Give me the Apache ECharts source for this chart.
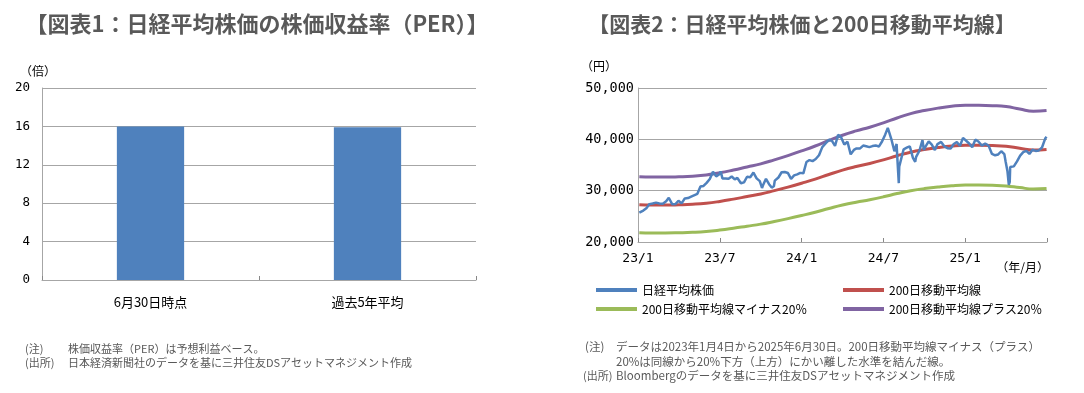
<!DOCTYPE html>
<html>
<head>
<meta charset="utf-8">
<script src="https://cdn.jsdelivr.net/npm/echarts@6/dist/echarts.min.js"></script>
<style>
html,body{margin:0;padding:0;background:#fff;}
#c{width:1084px;height:393px;}
</style>
</head>
<body>
<div id="c"></div>
<script>
// ---------- Chart 1 data ----------
var perCategories = ['6月30日時点', '過去5年平均'];
var perValues = [16.0, 15.9];
var perTicks = [0, 4, 8, 12, 16, 20];

// ---------- Chart 2 data ----------
var xTickLabels = ['23/1', '23/7', '24/1', '24/7', '25/1'];
var yTickValues = [20000, 30000, 40000, 50000];

var nikkeiDates = [
 '2023-01-04','2023-01-06','2023-01-13','2023-01-20','2023-01-27','2023-02-03','2023-02-10','2023-02-17','2023-02-24',
 '2023-03-03','2023-03-09','2023-03-17','2023-03-20','2023-03-24','2023-03-31','2023-04-07','2023-04-14','2023-04-21','2023-04-28',
 '2023-05-02','2023-05-12','2023-05-19','2023-05-26','2023-06-02','2023-06-09','2023-06-16','2023-06-23','2023-06-30',
 '2023-07-03','2023-07-07','2023-07-14','2023-07-21','2023-07-28','2023-08-04','2023-08-10','2023-08-18','2023-08-25',
 '2023-09-01','2023-09-08','2023-09-15','2023-09-22','2023-09-29','2023-10-04','2023-10-06','2023-10-13','2023-10-20','2023-10-26','2023-10-31',
 '2023-11-02','2023-11-10','2023-11-17','2023-11-24','2023-12-01','2023-12-08','2023-12-15','2023-12-22','2023-12-29',
 '2024-01-05','2024-01-12','2024-01-19','2024-01-26','2024-02-02','2024-02-09','2024-02-16','2024-02-22',
 '2024-03-01','2024-03-04','2024-03-08','2024-03-15','2024-03-22','2024-03-29','2024-04-05','2024-04-12','2024-04-19','2024-04-26',
 '2024-05-02','2024-05-10','2024-05-17','2024-05-24','2024-05-31','2024-06-07','2024-06-14','2024-06-21','2024-06-28',
 '2024-07-05','2024-07-11','2024-07-19','2024-07-26','2024-07-31','2024-08-02','2024-08-05','2024-08-06','2024-08-09','2024-08-16','2024-08-23','2024-08-30',
 '2024-09-06','2024-09-11','2024-09-13','2024-09-20','2024-09-27','2024-09-30','2024-10-04','2024-10-11','2024-10-18','2024-10-25','2024-10-31',
 '2024-11-08','2024-11-15','2024-11-22','2024-11-29','2024-12-06','2024-12-13','2024-12-20','2024-12-27','2024-12-30',
 '2025-01-10','2025-01-17','2025-01-24','2025-01-31','2025-02-07','2025-02-14','2025-02-21','2025-02-28',
 '2025-03-07','2025-03-14','2025-03-21','2025-03-28','2025-03-31','2025-04-04','2025-04-07','2025-04-09','2025-04-10','2025-04-18','2025-04-25',
 '2025-05-02','2025-05-09','2025-05-16','2025-05-23','2025-05-30','2025-06-06','2025-06-13','2025-06-20','2025-06-27','2025-06-30'
];
var nikkeiValues = [
 25717,25973,26120,26553,27383,27509,27671,27513,27453,
 27927,28623,27334,26946,27385,28041,27518,28493,28564,28856,
 29158,29388,30808,30916,31524,32265,33706,32782,33189,
 33753,32388,32391,32304,32759,32192,32474,31450,31624,
 32710,32606,33533,32402,31857,30526,30994,32315,31259,30601,30859,
 31950,32568,33585,33625,33431,32307,32970,33169,33464,
 33377,35577,35963,35751,36158,36897,38487,39098,
 39910,40109,39688,38707,40888,40369,38992,39523,37068,37934,
 38236,38229,38787,38646,38487,38683,38814,38596,39583,
 40912,42224,40063,37667,39101,35909,31458,34675,35025,38062,38364,38647,
 36391,35619,36581,37723,39829,37919,38635,39605,38981,37913,39081,
 39500,38642,38283,38208,39091,39470,38701,40281,39894,
 39190,38451,39931,39572,38787,39149,38776,37155,
 36887,37053,37677,37120,35617,33780,31136,31714,34609,34730,35705,
 36831,37503,37753,37160,37965,37742,37834,38403,40150,40487
];

var maDates = [
 '2023-01-04','2023-02-01','2023-03-01','2023-04-01','2023-05-01','2023-06-01','2023-07-01','2023-08-01','2023-09-01','2023-10-01','2023-11-01','2023-12-01',
 '2024-01-01','2024-02-01','2024-03-01','2024-04-01','2024-05-01','2024-06-01','2024-07-01','2024-08-01','2024-09-01','2024-10-01','2024-11-01','2024-12-01',
 '2025-01-01','2025-02-01','2025-03-01','2025-04-01','2025-05-01','2025-06-01','2025-06-30'
];
var ma200 = [
 27250,27200,27200,27250,27350,27550,27900,28350,28850,29350,30000,30700,
 31450,32250,33150,34000,34700,35300,36000,36800,37500,38000,38400,38700,
 38850,38850,38800,38650,38250,37900,38000
];
var maMinus20 = [
 21800,21760,21760,21800,21880,22040,22320,22680,23080,23480,24000,24560,
 25160,25800,26520,27200,27760,28240,28800,29440,30000,30400,30720,30960,
 31080,31080,31040,30920,30600,30320,30400
];
var maPlus20 = [
 32700,32640,32640,32700,32820,33060,33480,34020,34620,35220,36000,36840,
 37740,38700,39780,40800,41640,42360,43200,44160,45000,45600,46080,46440,
 46620,46620,46560,46380,45900,45480,45600
];

// ---------- helpers ----------
function monthPos(s) {
  var p = s.split('-').map(Number);
  var dim = new Date(p[0], p[1], 0).getDate();
  return (p[0] - 2023) * 12 + (p[1] - 1) + (p[2] - 1) / dim;
}
function pairs(dates, vals) {
  return dates.map(function (d, i) { return [monthPos(d), vals[i]]; });
}

var JP = "'Noto Sans CJK JP', 'Noto Sans', sans-serif";
var MONO = "'DejaVu Sans Mono', monospace";
var GRID_C = '#a6a6a6';
var NOTE_F = '11px ' + JP;
var NOTE_R = '11.5px ' + JP;

var chart = echarts.init(document.getElementById('c'), null, {renderer: 'canvas'});

var option = {
  animation: false,
  backgroundColor: '#ffffff',
  grid: [
    {left: 42, top: 88, width: 434, height: 192},
    {left: 638, top: 88, width: 409, height: 154}
  ],
  xAxis: [
    {
      type: 'category', gridIndex: 0, data: perCategories,
      axisLine: {lineStyle: {color: GRID_C}},
      axisTick: {show: true, inside: true, length: 4, lineStyle: {color: '#888'}},
      axisLabel: {color: '#000', fontFamily: JP, fontSize: 13, margin: 16}
    },
    {
      type: 'value', gridIndex: 1, min: 0, max: 30, interval: 6,
      axisLine: {onZero: false, lineStyle: {color: GRID_C}},
      axisTick: {show: true, inside: true, length: 4, lineStyle: {color: '#888'}},
      splitLine: {show: false},
      axisLabel: {
        color: '#000', fontFamily: MONO, fontSize: 13, margin: 10,
        formatter: function (v) { var i = Math.round(v / 6); return xTickLabels[i] || ''; }
      }
    }
  ],
  yAxis: [
    {
      type: 'value', gridIndex: 0, min: perTicks[0], max: perTicks[perTicks.length - 1], interval: 4,
      axisLine: {show: true, lineStyle: {color: GRID_C}},
      axisTick: {show: false},
      splitLine: {lineStyle: {color: GRID_C}},
      axisLabel: {color: '#000', fontFamily: MONO, fontSize: 12.5, margin: 12}
    },
    {
      type: 'value', gridIndex: 1, min: yTickValues[0], max: yTickValues[yTickValues.length - 1], interval: 10000,
      axisLine: {show: true, lineStyle: {color: GRID_C}},
      axisTick: {show: false},
      splitLine: {lineStyle: {color: GRID_C}},
      axisLabel: {
        color: '#000', fontFamily: MONO, fontSize: 13.5, margin: 4,
        formatter: function (v) { return v.toLocaleString('en-US'); }
      }
    }
  ],
  legend: [
    {
      orient: 'vertical', left: 596, top: 284, padding: 0, itemWidth: 41, itemHeight: 4, itemGap: 7,
      icon: 'rect', textStyle: {fontFamily: JP, fontSize: 12, color: '#000'},
      data: ['日経平均株価', '200日移動平均線マイナス20％']
    },
    {
      orient: 'vertical', left: 843, top: 284, padding: 0, itemWidth: 41, itemHeight: 4, itemGap: 7,
      icon: 'rect', textStyle: {fontFamily: JP, fontSize: 12, color: '#000'},
      data: ['200日移動平均線', '200日移動平均線プラス20％']
    }
  ],
  series: [
    {
      type: 'bar', xAxisIndex: 0, yAxisIndex: 0, data: perValues, barWidth: '31%',
      itemStyle: {color: '#4f81bd'}
    },
    {
      name: '200日移動平均線マイナス20％', type: 'line', xAxisIndex: 1, yAxisIndex: 1,
      data: pairs(maDates, maMinus20), smooth: true, showSymbol: false,
      lineStyle: {color: '#9bbb59', width: 3}, itemStyle: {color: '#9bbb59'}
    },
    {
      name: '200日移動平均線プラス20％', type: 'line', xAxisIndex: 1, yAxisIndex: 1,
      data: pairs(maDates, maPlus20), smooth: true, showSymbol: false,
      lineStyle: {color: '#8064a2', width: 3}, itemStyle: {color: '#8064a2'}
    },
    {
      name: '200日移動平均線', type: 'line', xAxisIndex: 1, yAxisIndex: 1,
      data: pairs(maDates, ma200), smooth: true, showSymbol: false,
      lineStyle: {color: '#c0504d', width: 3}, itemStyle: {color: '#c0504d'}
    },
    {
      name: '日経平均株価', type: 'line', xAxisIndex: 1, yAxisIndex: 1,
      data: pairs(nikkeiDates, nikkeiValues), showSymbol: false,
      lineStyle: {color: '#4f81bd', width: 2.5}, itemStyle: {color: '#4f81bd'}
    }
  ],
  graphic: [
    {type: 'text', style: {text: '【図表1：日経平均株価の株価収益率（PER）】', x: 257, y: 24, textAlign: 'center', textVerticalAlign: 'middle', font: 'bold 22px ' + JP, fill: '#595959'}},
    {type: 'text', style: {text: '【図表2：日経平均株価と200日移動平均線】', x: 802, y: 24, textAlign: 'center', textVerticalAlign: 'middle', font: 'bold 21px ' + JP, fill: '#595959'}},
    {type: 'text', style: {text: '（倍）', x: 20, y: 71, textVerticalAlign: 'middle', font: '12px ' + JP, fill: '#000'}},
    {type: 'text', style: {text: '（円）', x: 581, y: 66, textVerticalAlign: 'middle', font: '12px ' + JP, fill: '#000'}},
    {type: 'text', style: {text: '（年/月）', x: 1049, y: 267, textAlign: 'right', textVerticalAlign: 'middle', font: '12px ' + JP, fill: '#000'}},
    // notes left
    {type: 'text', style: {text: '(注)', x: 25, y: 349, textVerticalAlign: 'middle', font: NOTE_F, fill: '#595959'}},
    {type: 'text', style: {text: '株価収益率（PER）は予想利益ベース。', x: 68, y: 349, textVerticalAlign: 'middle', font: NOTE_F, fill: '#595959'}},
    {type: 'text', style: {text: '(出所)', x: 25, y: 363, textVerticalAlign: 'middle', font: NOTE_F, fill: '#595959'}},
    {type: 'text', style: {text: '日本経済新聞社のデータを基に三井住友DSアセットマネジメント作成', x: 68, y: 363, textVerticalAlign: 'middle', font: NOTE_F, fill: '#595959'}},
    // notes right
    {type: 'text', style: {text: '(注)', x: 585, y: 347, textVerticalAlign: 'middle', font: NOTE_R, fill: '#595959'}},
    {type: 'text', style: {text: 'データは2023年1月4日から2025年6月30日。200日移動平均線マイナス（プラス）', x: 616, y: 347, textVerticalAlign: 'middle', font: NOTE_R, fill: '#595959'}},
    {type: 'text', style: {text: '20%は同線から20%下方（上方）にかい離した水準を結んだ線。', x: 616, y: 362, textVerticalAlign: 'middle', font: NOTE_R, fill: '#595959'}},
    {type: 'text', style: {text: '(出所)', x: 583, y: 376, textVerticalAlign: 'middle', font: NOTE_F, fill: '#595959'}},
    {type: 'text', style: {text: 'Bloombergのデータを基に三井住友DSアセットマネジメント作成', x: 616, y: 376, textVerticalAlign: 'middle', font: NOTE_R, fill: '#595959'}}
  ]
};
chart.setOption(option);
</script>
</body>
</html>
